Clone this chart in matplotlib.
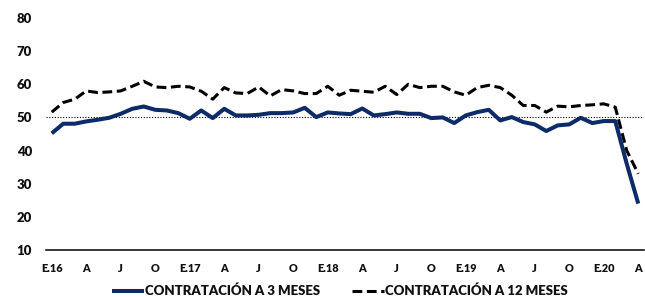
import matplotlib
matplotlib.use("Agg")
import matplotlib.pyplot as plt
import numpy as np

tick_labels = ["E.16", "A", "J", "O", "E.17", "A", "J", "O", "E.18", "A", "J", "O",
               "E.19", "A", "J", "O", "E.20", "A"]

contratacion_3m = [45.2, 48.1, 48.1, 48.8, 49.3, 49.9, 51.1, 52.6, 53.3, 52.3, 52.1, 51.3,
                   49.6, 52.1, 49.8, 52.6, 50.6, 50.6, 50.8, 51.3, 51.3, 51.5, 52.9, 50.1,
                   51.5, 51.2, 51.0, 52.7, 50.6, 51.0, 51.5, 51.1, 51.1, 49.8, 50.0, 48.3,
                   50.6, 51.6, 52.3, 49.1, 50.1, 48.6, 47.9, 45.9, 47.6, 47.9, 49.9, 48.3,
                   48.9, 48.9, 36.0, 24.0]

contratacion_12m = [51.6, 54.5, 55.5, 58.0, 57.5, 57.7, 58.0, 59.4, 60.9, 59.2, 59.0, 59.4,
                    59.2, 57.9, 55.5, 59.0, 57.4, 57.2, 59.2, 56.5, 58.4, 58.0, 57.2, 57.2,
                    59.4, 56.7, 58.2, 57.9, 57.6, 59.4, 56.9, 60.0, 59.0, 59.4, 59.4, 57.7,
                    56.7, 59.0, 59.7, 59.0, 56.7, 53.6, 53.6, 51.6, 53.4, 53.2, 53.6, 53.8,
                    54.1, 53.1, 40.0, 33.0]

font = "Lato"
plt.rcParams["font.family"] = [font, "DejaVu Sans"]
W = "heavy"

fig = plt.figure(figsize=(6.45, 2.97), dpi=100)
ax = fig.add_axes([46/645, 1 - 250/297, (644 - 46)/645, (250 - 18)/297])

x = np.arange(len(contratacion_3m))
blue = "#0c2b68"
ax.plot(x, contratacion_3m, color=blue, lw=2.9, solid_capstyle="butt", solid_joinstyle="round",
        label="CONTRATACIÓN A 3 MESES", zorder=3)
ax.plot(x, contratacion_12m, color="black", lw=2.2, dashes=(3.2, 1.5),
        label="CONTRATACIÓN A 12 MESES", zorder=2)
ax.axhline(50, color="black", lw=0.8, ls=(0, (1, 1.5)), zorder=1)

ax.set_xlim(-0.5, len(x) - 0.5)
ax.set_ylim(10, 80)
ax.set_yticks(np.arange(10, 81, 10))
ax.set_xticks(np.arange(0, len(x), 3))
ax.set_xticklabels(tick_labels, fontsize=7.8, fontweight=W)
for lab in ax.get_yticklabels():
    lab.set_fontsize(9.5)
    lab.set_fontweight(W)
ax.tick_params(axis="y", length=0, pad=10, colors="#111111")
ax.tick_params(axis="x", length=0, pad=9, colors="#111111")
for s in ["top", "right", "left"]:
    ax.spines[s].set_visible(False)
ax.spines["bottom"].set_linewidth(1.1)
ax.spines["bottom"].set_color("black")

leg = fig.legend(loc="center", bbox_to_anchor=(340/645, 1 - 291/297), ncol=2, frameon=False,
                 prop={"family": font, "weight": W, "size": 9.5},
                 handlelength=2.4, handletextpad=0.1, columnspacing=2.4)
for t in leg.get_texts():
    t.set_color("#111111")

fig.savefig("out.png", dpi=100)
